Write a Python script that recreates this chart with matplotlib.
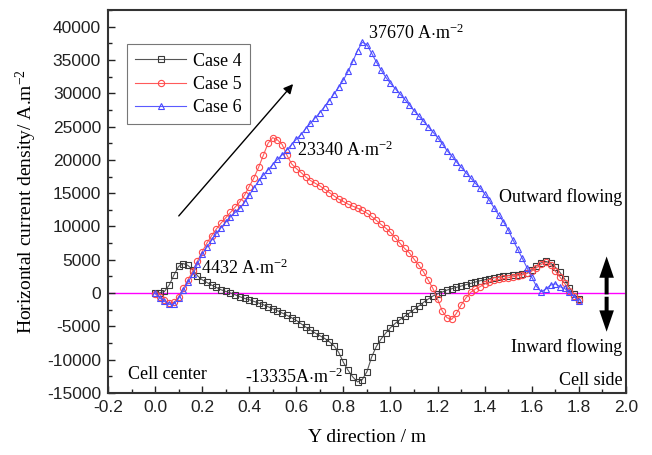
import numpy as np
import matplotlib
matplotlib.use("Agg")
import matplotlib.pyplot as plt
from matplotlib.ticker import MultipleLocator

plt.rcParams['font.family'] = 'Liberation Serif'
plt.rcParams['mathtext.fontset'] = 'custom'
plt.rcParams['mathtext.rm'] = 'Liberation Serif'
plt.rcParams['mathtext.it'] = 'Liberation Serif:italic'
plt.rcParams['axes.unicode_minus'] = False

# positions along the cell (m)
y_pos = [0.00, 0.02, 0.04, 0.06, 0.08, 0.10, 0.12, 0.14, 0.16, 0.18,
         0.20, 0.22, 0.24, 0.26, 0.28, 0.30, 0.32, 0.34, 0.36, 0.38,
         0.40, 0.42, 0.44, 0.46, 0.48, 0.50, 0.52, 0.54, 0.56, 0.58,
         0.60, 0.62, 0.64, 0.66, 0.68, 0.70, 0.72, 0.74, 0.76, 0.78,
         0.80, 0.82, 0.84, 0.86, 0.88, 0.90, 0.92, 0.94, 0.96, 0.98,
         1.00, 1.02, 1.04, 1.06, 1.08, 1.10, 1.12, 1.14, 1.16, 1.18,
         1.20, 1.22, 1.24, 1.26, 1.28, 1.30, 1.32, 1.34, 1.36, 1.38,
         1.40, 1.42, 1.44, 1.46, 1.48, 1.50, 1.52, 1.54, 1.56, 1.58,
         1.60, 1.62, 1.64, 1.66, 1.68, 1.70, 1.72, 1.74, 1.76, 1.78,
         1.80]

# horizontal current density (A/m^2)
case4 = [0, 30, 250, 1200, 2700, 4000, 4432, 4150, 3500, 2600,
         2000, 1600, 1200, 850, 500, 250, 30, -250, -550, -800,
         -1000, -1250, -1500, -1750, -2050, -2350, -2650, -3000, -3350, -3700,
         -4100, -4600, -5100, -5550, -6000, -6400, -6800, -7300, -7900, -8900,
         -10400, -11600, -12600, -13335, -13000, -11800, -9600, -8000, -6900, -6000,
         -5200, -4550, -4000, -3500, -3000, -2450, -1950, -1400, -900, -450,
         -100, 150, 450, 650, 850, 1050, 1250, 1450, 1650, 1850,
         2000, 2150, 2300, 2400, 2500, 2600, 2700, 2750, 2850, 3000,
         3500, 4100, 4550, 4750, 4500, 3900, 3100, 2100, 800, -150,
         -900]

case5 = [-100, -600, -1100, -1500, -1400, -600, 700, 2000, 3300, 4800,
         6200, 7500, 8600, 9600, 10500, 11300, 12100, 12900, 13700, 14700,
         16000, 17300, 18900, 20700, 22500, 23340, 23000, 22300, 20700, 19400,
         18700, 18100, 17450, 16900, 16500, 16100, 15600, 15100, 14600, 14100,
         13750, 13350, 13050, 12750, 12400, 12000, 11500, 10900, 10300, 9750,
         9100, 8300, 7500, 6700, 6050, 5100, 4200, 3200, 1950, 700,
         -900, -2700, -3700, -3950, -3050, -1800, -750, 100, 600, 950,
         1350, 1650, 1900, 2050, 2200, 2300, 2450, 2600, 2750, 2950,
         3300, 3800, 4300, 4600, 4250, 3300, 2400, 1450, 350, -500,
         -1100]

case6 = [0, -750, -1250, -1700, -1650, -800, 400, 1600, 2850, 4400,
         5800, 6900, 7950, 8950, 9800, 10650, 11450, 12100, 12700, 13600,
         14700, 15800, 16800, 17700, 18500, 19300, 20100, 20750, 21500, 22300,
         23100, 23800, 24700, 25500, 26300, 27100, 28000, 28900, 29900, 30900,
         32000, 33300, 34800, 36400, 37670, 37300, 36000, 34700, 33500, 32400,
         31500, 30700, 29900, 29100, 28250, 27400, 26600, 25800, 25000, 24200,
         23350, 22400, 21400, 20600, 19700, 18900, 18100, 17300, 16500, 15800,
         14900, 13900, 12800, 11700, 10700, 9500, 8000, 6600, 5200, 3800,
         2400, 1000, 200, 600, 1200, 1400, 950, 700, 100, -550,
         -1200]

fig = plt.figure(figsize=(6.52, 4.55), dpi=100)
ax = fig.add_axes([0.1656, 0.1363, 0.7944, 0.8417])

ax.axhline(0, color='#ff00ff', lw=1.0, zorder=1)

ax.plot(y_pos, case4, color='#555555', lw=0.8, marker='s', ms=4.2,
        mfc='none', mec='#3a3a3a', mew=0.8, label='Case 4', zorder=3)
ax.plot(y_pos, case5, color='#ff5a5a', lw=0.8, marker='o', ms=4.5,
        mfc='none', mec='#ff4a4a', mew=0.8, label='Case 5', zorder=3)
ax.plot(y_pos, case6, color='#5a5aff', lw=0.8, marker='^', ms=5,
        mfc='none', mec='#4a4aff', mew=0.8, label='Case 6', zorder=3)

ax.set_xlim(-0.2, 2.0)
ax.set_ylim(-15000, 42500)
ax.xaxis.set_major_locator(MultipleLocator(0.2))
ax.xaxis.set_minor_locator(MultipleLocator(0.1))
ax.yaxis.set_major_locator(MultipleLocator(5000))
ax.yaxis.set_minor_locator(MultipleLocator(2500))
ax.tick_params(which='both', direction='in', top=False, right=False,
               colors='#222222')
ax.tick_params(which='major', length=5, width=1.0, labelsize=12.5, pad=5)
ax.tick_params(which='minor', length=3, width=1.0)
for lab in ax.get_xticklabels() + ax.get_yticklabels():
    lab.set_fontfamily('Liberation Sans')
for sp in ax.spines.values():
    sp.set_linewidth(1.5)
    sp.set_color('#333333')

ax.set_xlabel('Y direction / m', fontsize=14, labelpad=10)
ax.set_ylabel('Horizontal current density/ A.m$^{-2}$', fontsize=14, labelpad=6)

# peak / valley labels
ax.text(0.905, 39000, '37670 A$\\cdot$m$^{-2}$', fontsize=13, va='center')
ax.text(0.603, 21500, '23340 A$\\cdot$m$^{-2}$', fontsize=13, va='center')
ax.text(0.197, 3760, '4432 A$\\cdot$m$^{-2}$', fontsize=13, va='center')
ax.text(0.38, -12620, '-13335A$\\cdot$m$^{-2}$', fontsize=13, va='center')

ax.text(1.985, 14400, 'Outward flowing', fontsize=13, ha='right', va='center')
ax.text(1.985, -8100, 'Inward flowing', fontsize=13, ha='right', va='center')
ax.text(-0.117, -12170, 'Cell center', fontsize=13, va='center')
ax.text(1.985, -13070, 'Cell side', fontsize=13, ha='right', va='center')

# trend arrow
ax.annotate('', xy=(0.594, 31700), xytext=(0.093, 11270),
            arrowprops=dict(arrowstyle='-|>', color='black', lw=1.0,
                            mutation_scale=14))
# flow direction arrows (vertical, so width is in x units, length in y units)
ax.arrow(1.918, -200, 0, 5700, width=0.017, head_width=0.062,
         head_length=3200, length_includes_head=True, color='black', lw=0)
ax.arrow(1.918, -550, 0, -5250, width=0.017, head_width=0.062,
         head_length=3200, length_includes_head=True, color='black', lw=0)

leg = ax.legend(loc='upper left', bbox_to_anchor=(0.037, 0.91), fontsize=13,
                frameon=True, fancybox=False, edgecolor='#555555',
                handlelength=2.8, borderpad=0.45, labelspacing=0.35,
                handletextpad=0.4, borderaxespad=0)
leg.get_frame().set_linewidth(0.8)

fig.savefig('out.png', dpi=100)
